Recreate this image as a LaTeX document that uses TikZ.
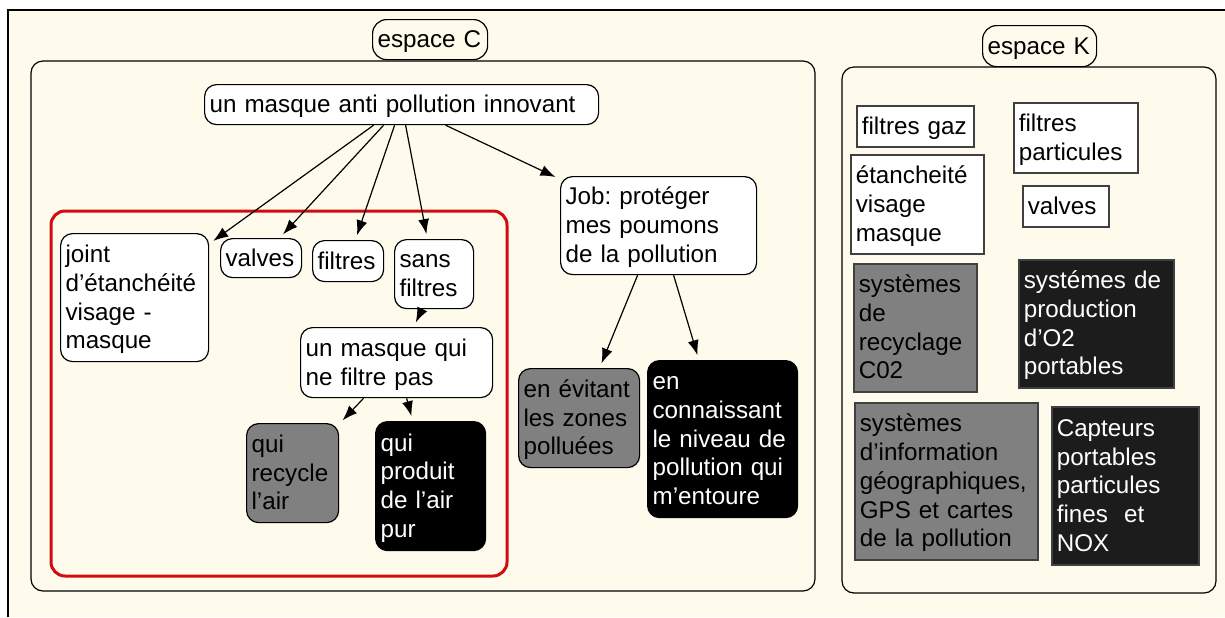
\documentclass[tikz,border=0pt]{standalone}
\usepackage{fontspec}
\setmainfont{Liberation Sans}
\usetikzlibrary{arrows.meta}
\definecolor{cream}{RGB}{254,251,236}
\definecolor{redframe}{RGB}{208,12,16}
\definecolor{midgray}{RGB}{128,128,128}
\definecolor{darkbox}{RGB}{28,28,28}
\newcommand{\boxfont}{\fontsize{12.1}{14.35}\selectfont\frenchspacing}
\newcommand{\boxstrut}{\rule[-3.15pt]{0pt}{14.35pt}}

\begin{document}
\begin{tikzpicture}[x=0.5pt,y=-0.5pt,
  every node/.style={font=\boxfont, align=left, anchor=north west, inner xsep=2.5pt, inner ysep=2pt,
    execute at begin node=\boxstrut, execute at end node=\boxstrut},
  cbox/.style={draw, line width=0.6pt, rounded corners=6pt, fill=white},
  kbox/.style={draw=black!75, line width=0.8pt, fill=white},
  grey/.style={fill=midgray},
  dark/.style={fill=black, text=white},
  darkk/.style={fill=darkbox, text=white},
  arr/.style={-{Latex[length=7.5pt,width=5.5pt]}, line width=0.6pt, shorten >=2.5pt}]
\useasboundingbox (0,0) rectangle (1225,617);
\fill[white] (0,0) rectangle (1225,617);
\fill[cream] (8,10) rectangle (1225,617);
\draw[line width=1pt] (8,617) -- (8,10) -- (1225,10);
\draw[line width=0.6pt, rounded corners=6pt, fill=cream] (31,61) rectangle (815,591);
\draw[line width=0.6pt, rounded corners=6pt, fill=cream] (842,67) rectangle (1216,593);
\draw[redframe, line width=1.5pt, rounded corners=7pt] (51,211) rectangle (507,576);

\node[cbox, fill=cream, rounded corners=7pt, text width=52.5pt, minimum height=20pt] (espC) at (372,19) {espace C};
\node[cbox, fill=cream, rounded corners=7pt, text width=52pt, minimum height=20.5pt] (espK) at (982,25) {espace K};

\node[cbox, text width=192pt, minimum height=20pt] (top) at (204,84) {un masque anti pollution innovant};
\node[cbox, text width=69pt, minimum height=64pt] (joint) at (60,233) {joint\\d’étanchéité\\visage -\\masque};
\node[cbox, text width=35.5pt, minimum height=19.5pt] (valvesC) at (220,238) {valves};
\node[cbox, text width=30.5pt, minimum height=20.5pt] (filtresC) at (312,240) {filtres};
\node[cbox, text width=34.5pt, minimum height=34.5pt] (sans) at (394,239) {sans\\filtres};
\node[cbox, text width=93pt, minimum height=49pt] (job) at (560,176) {Job: protéger\\mes poumons\\de la pollution};
\node[cbox, text width=91pt, minimum height=35pt] (nofilter) at (300,327) {un masque qui\\ne filtre pas};
\node[cbox, grey, text width=41pt, minimum height=49.5pt] (recycle) at (246,423) {qui\\recycle\\l’air};
\node[cbox, dark, text width=50pt, minimum height=64.5pt] (produit) at (375,421) {qui\\produit\\de l’air\\pur};
\node[cbox, grey, text width=55.5pt, minimum height=49.5pt] (evitant) at (518,368) {en évitant\\les zones\\polluées};
\node[cbox, dark, text width=70pt, minimum height=78.5pt] (connais) at (647,360) {en\\connaissant\\le niveau de\\pollution qui\\m’entoure};

\node[kbox, text width=53.5pt, minimum height=20.5pt] (gaz) at (856,105) {filtres gaz};
\node[kbox, text width=57pt, minimum height=35pt] (partic) at (1013,102) {filtres\\particules};
\node[kbox, text width=61.5pt, minimum height=49.5pt] (etanch) at (850,154) {étancheité\\visage\\masque};
\node[kbox, text width=38pt, minimum height=20.5pt] (valvesK) at (1022,185) {valves};
\node[kbox, grey, text width=56.5pt, minimum height=64pt] (recyc) at (853,263) {systèmes\\de\\recyclage\\C02};
\node[kbox, darkk, text width=72.5pt, minimum height=64pt] (prodO2) at (1018,259) {systémes de\\production\\d’O2\\portables};
\node[kbox, grey, text width=86.5pt, minimum height=78.5pt] (info) at (854,402) {systèmes\\d’information\\géographiques,\\GPS et cartes\\de la pollution};
\node[kbox, darkk, text width=68.5pt, minimum height=79pt] (capt) at (1051,406) {Capteurs\\portables\\particules\\fines\ \ et\\NOX};

\draw[arr] ([xshift=-14pt]top.south) -- (joint);
\draw[arr] ([xshift=-9pt]top.south) -- (valvesC);
\draw[arr] ([xshift=-3.5pt]top.south) -- (filtresC);
\draw[arr] ([xshift=2pt]top.south) -- (sans);
\draw[arr] ([xshift=22pt]top.south) -- (job);
\draw[arr] ([xshift=-6pt]sans.south) -- (nofilter);
\draw[arr] ([xshift=-16.5pt]nofilter.south) -- (recycle);
\draw[arr] ([xshift=5pt]nofilter.south) -- (produit);
\draw[arr] ([xshift=-10.5pt]job.south) -- (evitant);
\draw[arr] ([xshift=7.5pt]job.south) -- (connais);
\end{tikzpicture}
\end{document}
